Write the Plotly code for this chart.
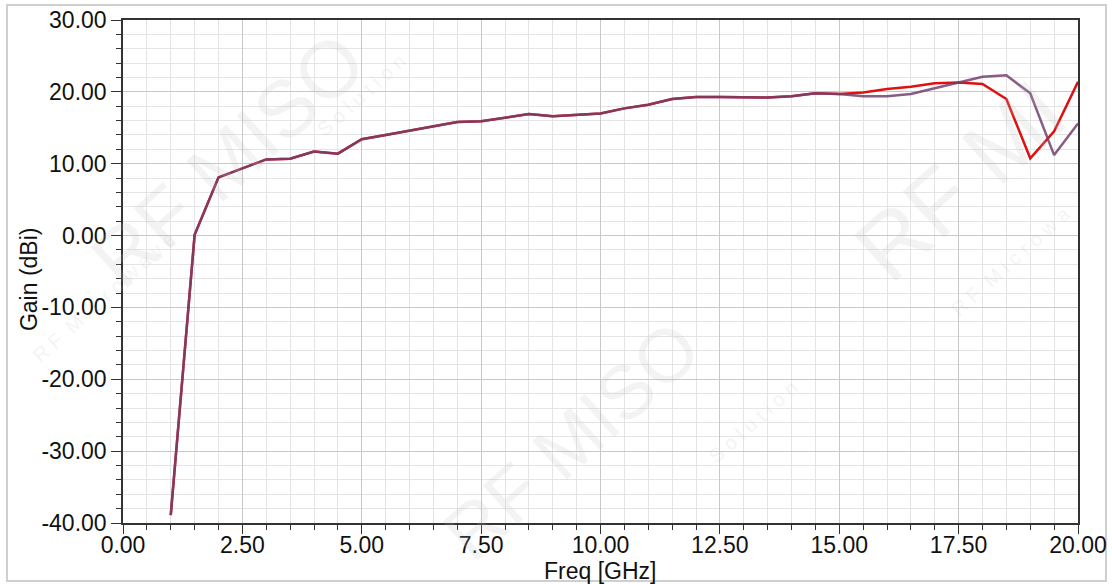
import plotly.graph_objects as go

freq = [1.0, 1.5, 2.0, 2.5, 3.0, 3.5, 4.0, 4.5, 5.0, 5.5, 6.0, 6.5, 7.0, 7.5, 8.0, 8.5,
        9.0, 9.5, 10.0, 10.5, 11.0, 11.5, 12.0, 12.5, 13.0, 13.5, 14.0, 14.5, 15.0,
        15.5, 16.0, 16.5, 17.0, 17.5, 18.0, 18.5, 19.0, 19.5, 20.0]
gain_red = [-38.9, 0.1, 8.1, 9.4, 10.6, 10.7, 11.7, 11.4, 13.4, 14.0, 14.6, 15.1, 15.8, 15.9,
            16.4, 16.9, 16.6, 16.8, 17.0, 17.7, 18.2, 19.0, 19.3, 19.3, 19.2, 19.2, 19.4,
            19.8, 19.7, 19.9, 20.4, 20.7, 21.2, 21.3, 21.1, 19.0, 10.75, 14.5, 21.4]
gain_purple = [-38.9, 0.1, 8.1, 9.4, 10.6, 10.7, 11.7, 11.4, 13.4, 14.0, 14.6, 15.1, 15.8, 15.9,
               16.4, 16.9, 16.6, 16.8, 17.0, 17.7, 18.2, 19.0, 19.3, 19.3, 19.2, 19.2, 19.4,
               19.8, 19.7, 19.4, 19.4, 19.7, 20.5, 21.3, 22.1, 22.3, 19.8, 11.2, 15.6]
x_ticks = [0.0, 2.5, 5.0, 7.5, 10.0, 12.5, 15.0, 17.5, 20.0]
y_ticks = [30, 20, 10, 0, -10, -20, -30, -40]
x_title = "Freq [GHz]"
y_title = "Gain (dBi)"

fig = go.Figure()
fig.add_trace(go.Scatter(x=freq, y=gain_red, mode="lines",
                         line=dict(color="#e01010", width=2.5), showlegend=False))
fig.add_trace(go.Scatter(x=freq, y=gain_purple, mode="lines",
                         line=dict(color="#74406e", width=2.5), opacity=0.85, showlegend=False))

font_main = "Liberation Sans, Arial, sans-serif"

# faint watermark (kept inside the picture)
wm = [("RF MISO", 0.11, 0.72, 80), ("RF MISO", 0.47, 0.165, 75),
      ("RF MI", 0.877, 0.68, 90),
      ("R F  M i c r o w a v e", -0.02, 0.45, 20), ("S o l u t i o n", 0.25, 0.85, 20),
      ("S o l u t i o n", 0.66, 0.20, 20), ("R F  M i c r o w a", 0.93, 0.52, 20)]
anns = []
for t, xx, yy, sz in wm:
    anns.append(dict(text=t, x=xx, y=yy, xref="paper", yref="paper", showarrow=False,
                     xanchor="center", yanchor="middle", textangle=-42,
                     font=dict(size=sz, color="rgba(190,190,190,0.18)", family=font_main)))
anns.append(dict(text=x_title, x=0.4995, y=-0.0945, xref="paper", yref="paper",
                 showarrow=False, xanchor="center", yanchor="middle",
                 font=dict(size=23, color="#111111", family=font_main)))
anns.append(dict(text=y_title, x=-0.0984, y=0.485, xref="paper", yref="paper",
                 showarrow=False, xanchor="center", yanchor="middle", textangle=-90,
                 font=dict(size=23, color="#111111", family=font_main)))

fig.update_layout(
    width=1112, height=584,
    margin=dict(l=123, r=34, t=20, b=61, autoexpand=False),
    paper_bgcolor="white", plot_bgcolor="white",
    font=dict(family=font_main, color="#111111"),
    annotations=anns,
    shapes=[dict(type="rect", xref="paper", yref="paper", x0=-0.1215, x1=1.0293,
                 y0=-0.1153, y1=1.0298, line=dict(color="#cfcfcf", width=2), layer="below")],
    xaxis=dict(range=[0, 20], tickvals=x_ticks, ticktext=[f"{v:.2f}" for v in x_ticks],
               automargin=False, ticklabelstandoff=-8,
               showgrid=True, gridcolor="#c8c8c8", gridwidth=1,
               minor=dict(dtick=0.5, showgrid=True, gridcolor="#e4e4e4", ticks="outside",
                          ticklen=5, tickcolor="#333333"),
               ticks="outside", ticklen=9, tickcolor="#333333",
               showline=True, linecolor="#333333", linewidth=1.5, mirror=True,
               zeroline=False, tickfont=dict(size=23)),
    yaxis=dict(range=[-40, 30], tickvals=y_ticks, ticktext=[f"{v:.2f}" for v in y_ticks],
               automargin=False,
               showgrid=True, gridcolor="#c8c8c8", gridwidth=1,
               minor=dict(dtick=2, showgrid=True, gridcolor="#e4e4e4", ticks="outside",
                          ticklen=5, tickcolor="#333333"),
               ticks="outside", ticklen=10, tickcolor="#333333",
               showline=True, linecolor="#333333", linewidth=1.5, mirror=True,
               zeroline=False, tickfont=dict(size=23)),
)

fig.write_html(
    "out.html",
    config={"displayModeBar": False},
    post_script=("document.documentElement.style.margin='0';"
                 "document.body.style.margin='0';"
                 "document.documentElement.style.overflow='hidden';"
                 "document.body.style.overflow='hidden';"),
)
